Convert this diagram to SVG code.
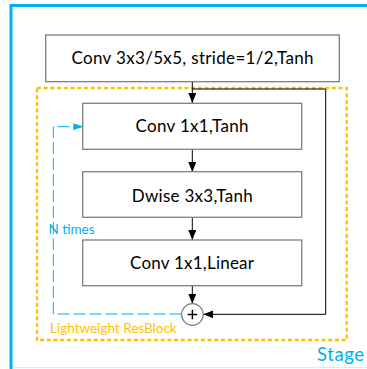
<svg xmlns="http://www.w3.org/2000/svg" width="367" height="369" viewBox="0 0 367 369">
  <defs>
    <style>
      .box { fill: #ffffff; stroke: #7f7f7f; stroke-width: 1.3; }
      .lbl { font-family: Lato, "Liberation Sans", sans-serif; font-size: 17px; fill: #000000; text-anchor: middle; }
      .flow { fill: none; stroke: #000000; stroke-width: 1; }
      .loop { fill: none; stroke: #00b0f0; stroke-width: 1; stroke-dasharray: 12 4; }
    </style>
    <marker id="arrowBlack" viewBox="0 0 10 8" refX="10" refY="4" markerWidth="10" markerHeight="8" markerUnits="userSpaceOnUse" orient="auto">
      <path d="M0,0 L10,4 L0,8 Z" fill="#000000"/>
    </marker>
    <marker id="arrowBlue" viewBox="0 0 10 7" refX="10" refY="3.5" markerWidth="10" markerHeight="7" markerUnits="userSpaceOnUse" orient="auto">
      <path d="M0,0 L10,3.5 L0,7 Z" fill="#00b0f0"/>
    </marker>
  </defs>

  <rect width="367" height="369" fill="#ffffff"/>

  <!-- stage frame -->
  <g id="stage">
    <path d="M11,369 V5.5 H370" fill="none" stroke="#00b0f0" stroke-width="3"/>
    <line x1="12.5" y1="367.7" x2="367" y2="367.7" stroke="#c4ecfb" stroke-width="1"/>
    <text x="317" y="360.7" font-family="Lato, 'Liberation Sans', sans-serif" font-size="18.5" fill="#00b0f0" textLength="47">Stage</text>
  </g>

  <!-- residual block outline -->
  <g id="resblock">
    <rect x="37" y="88" width="309.7" height="252" fill="none" stroke="#ffc000" stroke-width="2.3" stroke-dasharray="4 2.7"/>
    <text x="50" y="333.3" font-family="Lato, 'Liberation Sans', sans-serif" font-size="13.5" fill="#ffc000" textLength="126.7">Lightweight ResBlock</text>
  </g>

  <!-- connectors -->
  <g id="connectors">
    <line class="flow" x1="192.3" y1="81.7" x2="192.3" y2="103" marker-end="url(#arrowBlack)"/>
    <line class="flow" x1="192.3" y1="149.3" x2="192.3" y2="172" marker-end="url(#arrowBlack)"/>
    <line class="flow" x1="192.3" y1="217.3" x2="192.3" y2="240" marker-end="url(#arrowBlack)"/>
    <line class="flow" x1="192.3" y1="286" x2="192.3" y2="303.7" marker-end="url(#arrowBlack)"/>
    <path class="flow" d="M192.3,89 H325.7 V314.3 H203.3" marker-end="url(#arrowBlack)"/>
    <path class="loop" d="M181.5,314 H53.3 V126.7 H83.3" marker-end="url(#arrowBlue)"/>
    <text x="48.5" y="234.3" font-family="Lato, 'Liberation Sans', sans-serif" font-size="13.5" fill="#00b0f0" textLength="46">N times</text>
  </g>

  <g id="conv-input">
    <rect class="box" x="45.7" y="35" width="293.6" height="46.7"/>
    <text class="lbl" x="192.5" y="64.3" textLength="242">Conv 3x3/5x5, stride=1/2,Tanh</text>
  </g>

  <g id="conv-expand">
    <rect class="box" x="82.7" y="103.3" width="219" height="46"/>
    <text class="lbl" x="192" y="131.8" textLength="113">Conv 1x1,Tanh</text>
  </g>

  <g id="dwise">
    <rect class="box" x="82.7" y="171.7" width="219" height="45.6"/>
    <text class="lbl" x="192.2" y="201.7" textLength="121">Dwise 3x3,Tanh</text>
  </g>

  <g id="conv-project">
    <rect class="box" x="82.7" y="240" width="219" height="45.7"/>
    <text class="lbl" x="192" y="269.3" textLength="124">Conv 1x1,Linear</text>
  </g>

  <g id="add">
    <circle cx="192.4" cy="314.5" r="10.8" fill="#ffffff" stroke="#7f7f7f" stroke-width="1.2"/>
    <path d="M187.6,314.5 H197.2 M192.4,309.7 V319.3" stroke="#000000" stroke-width="1.5"/>
  </g>
</svg>
